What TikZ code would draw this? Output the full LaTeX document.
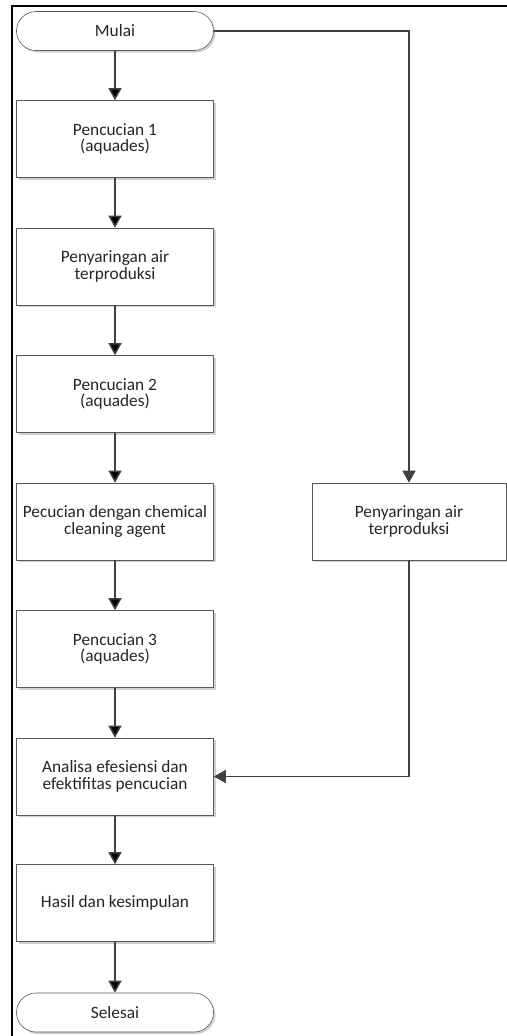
\documentclass[tikz,border=0pt]{standalone}
\usepackage{fontspec}
\setmainfont{Carlito}
\usetikzlibrary{positioning, shapes, shadows, arrows.meta}

\begin{document}
\begin{tikzpicture}[node distance=127.5pt,on grid,
    box/.style={rectangle,draw=black!65,line width=0.6pt,fill=white,minimum width=197pt,minimum height=77pt,
      align=center,text=black!85,font=\fontsize{17.3}{16.5}\selectfont,
      drop shadow={shadow xshift=2pt,shadow yshift=-2pt,fill=black!30,opacity=0.6}},
    ends/.style={box,rounded corners=19.5pt,minimum height=39pt},
    flow/.style={draw=black!75,line width=1.5pt,-{Triangle[width=13pt,length=12pt]}}]

      \useasboundingbox (0,0) rectangle (506pt,-1036pt);
      \draw[line width=2pt] (12pt,-1040pt) -- (12pt,-6pt) -- (510pt,-6pt);

      \node[ends]  (mulai)    at (115pt,-31pt)            {Mulai};
      \node[box]   (p_1)      [below=108pt of mulai]      {Pencucian 1\\(aquades)};
      \node[box]   (p_2)      [below=of p_1]              {Penyaringan air\\terproduksi};
      \node[box]   (p_3)      [below=of p_2]              {Pencucian 2\\(aquades)};
      \node[box]   (p_4)      [below=of p_3]              {Pecucian dengan chemical\\cleaning agent};
      \node[box]   (p_5)      [below=of p_4]              {Pencucian 3\\(aquades)};
      \node[box]   (p_6)      [below=of p_5]              {Analisa efesiensi dan\\efektifitas pencucian};
      \node[box]   (p_7)      [below=126.5pt of p_6]      {Hasil dan kesimpulan};
      \node[ends]  (selesai)  [below=109.5pt of p_7]      {Selesai};
      \node[box,minimum width=194pt] (p_r) [right=294pt of p_4] {Penyaringan air\\terproduksi};

      \path[flow] (mulai) edge (p_1)
                  (p_1) edge (p_2)
                  (p_2) edge (p_3)
                  (p_3) edge (p_4)
                  (p_4) edge (p_5)
                  (p_5) edge (p_6)
                  (p_6) edge (p_7)
                  (p_7) edge (selesai);
      \draw[flow] (mulai.east) -| (p_r.north);
      \draw[flow] (p_r.south) |- (p_6.east);
    \end{tikzpicture}
\end{document}
